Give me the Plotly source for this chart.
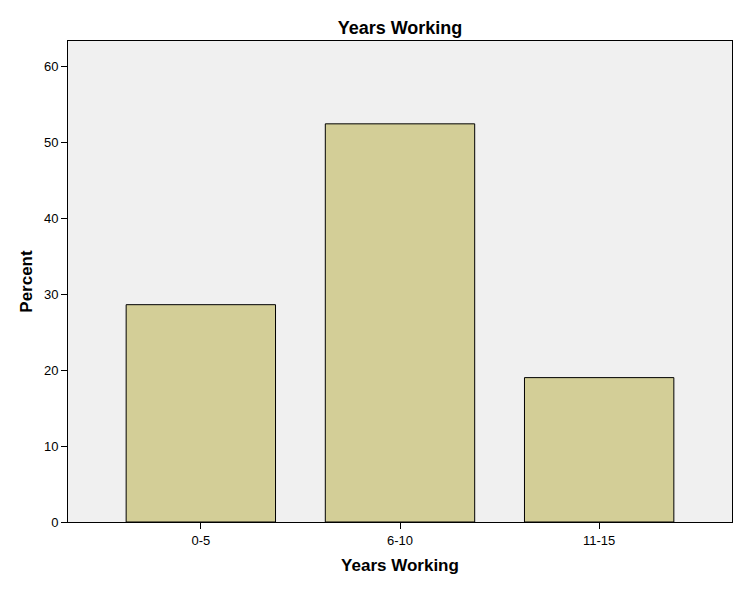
import plotly.graph_objects as go

categories = ["0-5", "6-10", "11-15"]
percent = [28.6, 52.4, 19.0]
y_ticks = [0, 10, 20, 30, 40, 50, 60]

fig = go.Figure()
fig.add_trace(go.Bar(
    x=categories, y=percent, width=0.75,
    marker=dict(color="#D3CE97", line=dict(color="black", width=1)),
))

fig.update_layout(
    width=737, height=589,
    margin=dict(l=68, r=5, t=41, b=67, autoexpand=False),
    paper_bgcolor="white", plot_bgcolor="#F0F0F0",
    font=dict(family="Arial, Liberation Sans", color="black", size=13),
    title=dict(text="<b>Years Working</b>", x=(68 + 732) / 2 / 737, xanchor="center",
               y=1 - 28 / 589, yanchor="middle", font=dict(size=18), automargin=False),
    showlegend=False,
    bargap=0.25,
)
fig.update_xaxes(
    range=[-0.667, 2.667], showline=True, linecolor="black", linewidth=1, mirror=True,
    ticks="outside", ticklen=6, tickcolor="black", showgrid=False, automargin=False,
    title=dict(text="<b>Years Working</b>", font=dict(size=17), standoff=12),
)
fig.update_yaxes(
    range=[0, 63.3], tickvals=y_ticks, showline=True, linecolor="black", linewidth=1, mirror=True,
    ticks="outside", ticklen=6, tickcolor="black", showgrid=False, zeroline=False, automargin=False,
    title=dict(text="<b>Percent</b>", font=dict(size=17), standoff=6),
)

fig.write_html(
    "out.html",
    config={"displayModeBar": False},
    post_script="document.body.style.margin='0';document.documentElement.style.overflow='hidden';",
)
